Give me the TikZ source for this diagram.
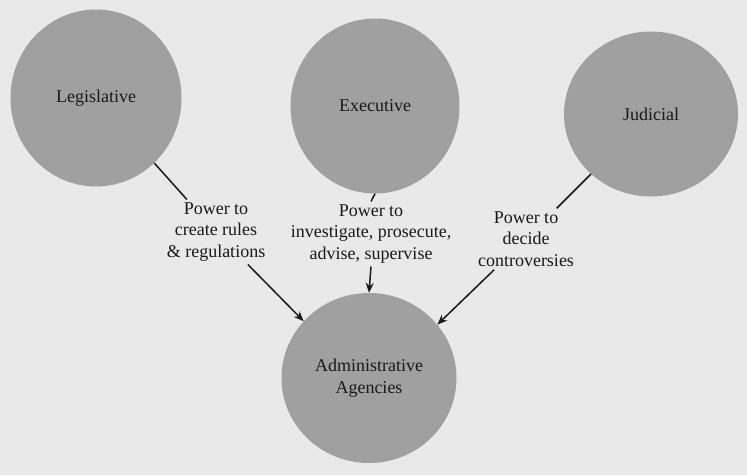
\documentclass[tikz,border=0pt]{standalone}
\usepackage{fontspec}
\setmainfont{Liberation Serif}
\usetikzlibrary{positioning,shapes.geometric,arrows.meta}
\definecolor{page}{RGB}{233,233,233}
\definecolor{disc}{RGB}{160,160,160}
\definecolor{ink}{RGB}{25,25,25}

\begin{document}
\begin{tikzpicture}[x=1pt,y=1pt,
    branch/.style={ellipse,fill=disc,inner sep=0pt,text=ink,align=center,font=\fontsize{18}{22}\selectfont},
    power/.style={align=center,text=ink,inner sep=3pt,font=\fontsize{18}{21.5}\selectfont},
    link/.style={draw=ink,line width=1.5pt}]
      \fill[page] (0,0) rectangle (747,475);
      \useasboundingbox (0,0) rectangle (747,475);

      \node[branch,minimum width=171pt,minimum height=177pt] (leg) at (96,377) {Legislative};
      \node[branch,minimum width=169pt,minimum height=175pt] (exe) at (375,369) {Executive};
      \node[branch,minimum width=174pt,minimum height=165pt] (jud) at (651,361) {Judicial};
      \node[branch,minimum width=175pt,minimum height=170pt] (adm) at (369,97) {Administrative\\Agencies};

      \node[power] (rules) at (216,243) {Power to\\create rules\\\& regulations};
      \node[power] (enforce) at (371,241) {Power to\\investigate, prosecute,\\advise, supervise};
      \node[power] (decide) at (526,236) {Power to\\decide\\controversies};

      %branch>power
      \draw[link] (leg) -- (rules);
      \draw[link] (exe.south) -- (enforce.north);
      \draw[link] (jud) -- (decide);

      %power>agencies
      \draw[link,-{Stealth[length=10pt,width=8pt]}] (rules) -- (adm.139);
      \draw[link,-{Stealth[length=10pt,width=8pt]}] (enforce.south) -- (adm.north);
      \draw[link,-{Stealth[length=10pt,width=8pt]}] (decide) -- (adm.38);
\end{tikzpicture}
\end{document}
